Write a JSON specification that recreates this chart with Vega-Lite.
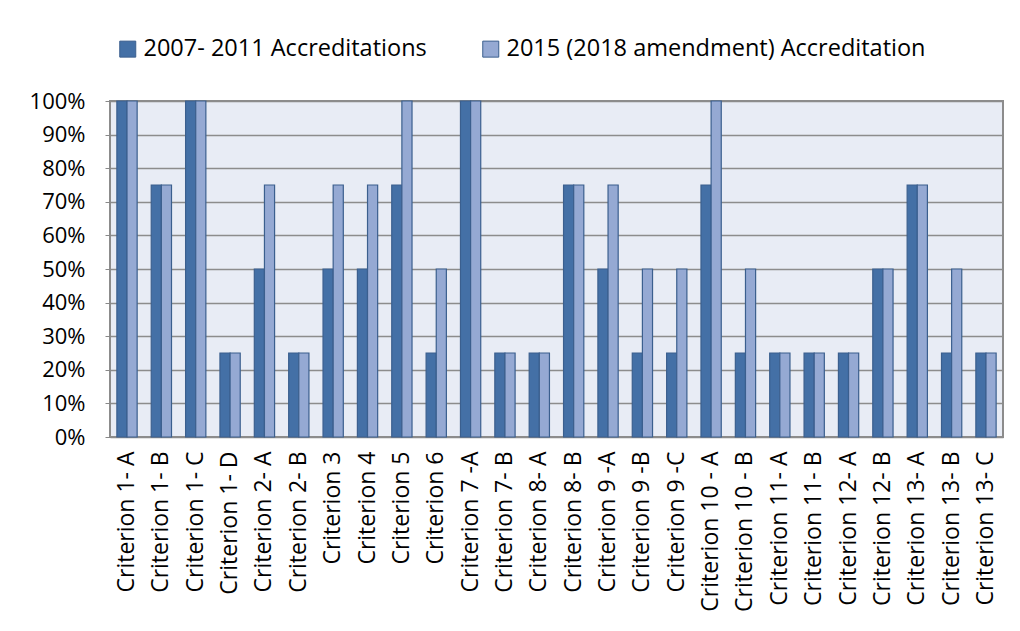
{
  "$schema": "https://vega.github.io/schema/vega-lite/v6.json",
  "width": 893,
  "height": 336,
  "autosize": {"type": "none"},
  "padding": {"left": 110, "top": 101, "right": 17, "bottom": 194},
  "background": "white",
  "data": {
    "values": [
      {"c": "Criterion 1- A", "s": "2007- 2011 Accreditations", "v": 1.0},
      {"c": "Criterion 1- A", "s": "2015 (2018 amendment) Accreditation", "v": 1.0},
      {"c": "Criterion 1- B", "s": "2007- 2011 Accreditations", "v": 0.75},
      {"c": "Criterion 1- B", "s": "2015 (2018 amendment) Accreditation", "v": 0.75},
      {"c": "Criterion 1- C", "s": "2007- 2011 Accreditations", "v": 1.0},
      {"c": "Criterion 1- C", "s": "2015 (2018 amendment) Accreditation", "v": 1.0},
      {"c": "Criterion 1- D", "s": "2007- 2011 Accreditations", "v": 0.25},
      {"c": "Criterion 1- D", "s": "2015 (2018 amendment) Accreditation", "v": 0.25},
      {"c": "Criterion 2- A", "s": "2007- 2011 Accreditations", "v": 0.5},
      {"c": "Criterion 2- A", "s": "2015 (2018 amendment) Accreditation", "v": 0.75},
      {"c": "Criterion 2- B", "s": "2007- 2011 Accreditations", "v": 0.25},
      {"c": "Criterion 2- B", "s": "2015 (2018 amendment) Accreditation", "v": 0.25},
      {"c": "Criterion 3", "s": "2007- 2011 Accreditations", "v": 0.5},
      {"c": "Criterion 3", "s": "2015 (2018 amendment) Accreditation", "v": 0.75},
      {"c": "Criterion 4", "s": "2007- 2011 Accreditations", "v": 0.5},
      {"c": "Criterion 4", "s": "2015 (2018 amendment) Accreditation", "v": 0.75},
      {"c": "Criterion 5", "s": "2007- 2011 Accreditations", "v": 0.75},
      {"c": "Criterion 5", "s": "2015 (2018 amendment) Accreditation", "v": 1.0},
      {"c": "Criterion 6", "s": "2007- 2011 Accreditations", "v": 0.25},
      {"c": "Criterion 6", "s": "2015 (2018 amendment) Accreditation", "v": 0.5},
      {"c": "Criterion 7 -A", "s": "2007- 2011 Accreditations", "v": 1.0},
      {"c": "Criterion 7 -A", "s": "2015 (2018 amendment) Accreditation", "v": 1.0},
      {"c": "Criterion 7- B", "s": "2007- 2011 Accreditations", "v": 0.25},
      {"c": "Criterion 7- B", "s": "2015 (2018 amendment) Accreditation", "v": 0.25},
      {"c": "Criterion 8- A", "s": "2007- 2011 Accreditations", "v": 0.25},
      {"c": "Criterion 8- A", "s": "2015 (2018 amendment) Accreditation", "v": 0.25},
      {"c": "Criterion 8- B", "s": "2007- 2011 Accreditations", "v": 0.75},
      {"c": "Criterion 8- B", "s": "2015 (2018 amendment) Accreditation", "v": 0.75},
      {"c": "Criterion 9 -A", "s": "2007- 2011 Accreditations", "v": 0.5},
      {"c": "Criterion 9 -A", "s": "2015 (2018 amendment) Accreditation", "v": 0.75},
      {"c": "Criterion 9 -B", "s": "2007- 2011 Accreditations", "v": 0.25},
      {"c": "Criterion 9 -B", "s": "2015 (2018 amendment) Accreditation", "v": 0.5},
      {"c": "Criterion 9 -C", "s": "2007- 2011 Accreditations", "v": 0.25},
      {"c": "Criterion 9 -C", "s": "2015 (2018 amendment) Accreditation", "v": 0.5},
      {"c": "Criterion 10 - A", "s": "2007- 2011 Accreditations", "v": 0.75},
      {"c": "Criterion 10 - A", "s": "2015 (2018 amendment) Accreditation", "v": 1.0},
      {"c": "Criterion 10 - B", "s": "2007- 2011 Accreditations", "v": 0.25},
      {"c": "Criterion 10 - B", "s": "2015 (2018 amendment) Accreditation", "v": 0.5},
      {"c": "Criterion 11- A", "s": "2007- 2011 Accreditations", "v": 0.25},
      {"c": "Criterion 11- A", "s": "2015 (2018 amendment) Accreditation", "v": 0.25},
      {"c": "Criterion 11- B", "s": "2007- 2011 Accreditations", "v": 0.25},
      {"c": "Criterion 11- B", "s": "2015 (2018 amendment) Accreditation", "v": 0.25},
      {"c": "Criterion 12- A", "s": "2007- 2011 Accreditations", "v": 0.25},
      {"c": "Criterion 12- A", "s": "2015 (2018 amendment) Accreditation", "v": 0.25},
      {"c": "Criterion 12- B", "s": "2007- 2011 Accreditations", "v": 0.5},
      {"c": "Criterion 12- B", "s": "2015 (2018 amendment) Accreditation", "v": 0.5},
      {"c": "Criterion 13- A", "s": "2007- 2011 Accreditations", "v": 0.75},
      {"c": "Criterion 13- A", "s": "2015 (2018 amendment) Accreditation", "v": 0.75},
      {"c": "Criterion 13- B", "s": "2007- 2011 Accreditations", "v": 0.25},
      {"c": "Criterion 13- B", "s": "2015 (2018 amendment) Accreditation", "v": 0.5},
      {"c": "Criterion 13- C", "s": "2007- 2011 Accreditations", "v": 0.25},
      {"c": "Criterion 13- C", "s": "2015 (2018 amendment) Accreditation", "v": 0.25}
    ]
  },
  "mark": {"type": "bar", "stroke": "#3B5F8E", "strokeWidth": 1.2},
  "encoding": {
    "x": {
      "field": "c",
      "type": "nominal",
      "sort": null,
      "scale": {"paddingInner": 0.41, "paddingOuter": 0.2},
      "axis": {
        "title": null,
        "labelAngle": -90,
        "labelAlign": "right",
        "labelBaseline": "middle",
        "labelFontSize": 23,
        "labelFont": "Open Sans",
        "labelColor": "black",
        "labelPadding": 14,
        "labelLimit": 0,
        "ticks": false,
        "domain": false
      }
    },
    "xOffset": {"field": "s", "type": "nominal"},
    "y": {
      "field": "v",
      "type": "quantitative",
      "scale": {"domain": [0, 1]},
      "axis": {
        "title": null,
        "format": "%",
        "values": [0, 0.1, 0.2, 0.3, 0.4, 0.5, 0.6, 0.7, 0.8, 0.9, 1.0],
        "labelFontSize": 22,
        "labelFont": "Open Sans",
        "labelColor": "black",
        "labelPadding": 20,
        "tickSize": 5,
        "tickColor": "#888888",
        "domain": false,
        "grid": true,
        "gridColor": "#8C8C8C",
        "gridWidth": 1.5
      }
    },
    "color": {
      "field": "s",
      "type": "nominal",
      "scale": {
        "domain": ["2007- 2011 Accreditations", "2015 (2018 amendment) Accreditation"],
        "range": ["#4470A6", "#95A9D3"]
      },
      "legend": {
        "title": null,
        "orient": "none",
        "direction": "horizontal",
        "legendX": 6,
        "legendY": -64,
        "symbolType": "square",
        "symbolSize": 256,
        "symbolStrokeColor": "#3B5F8E",
        "symbolStrokeWidth": 1,
        "labelFontSize": 23.5,
        "labelFont": "Open Sans",
        "labelColor": "black",
        "labelOffset": 4,
        "labelLimit": 0,
        "columnPadding": 52
      }
    }
  },
  "config": {
    "view": {"fill": "#E8ECF5", "stroke": "#8C8C8C", "strokeWidth": 2}
  }
}
